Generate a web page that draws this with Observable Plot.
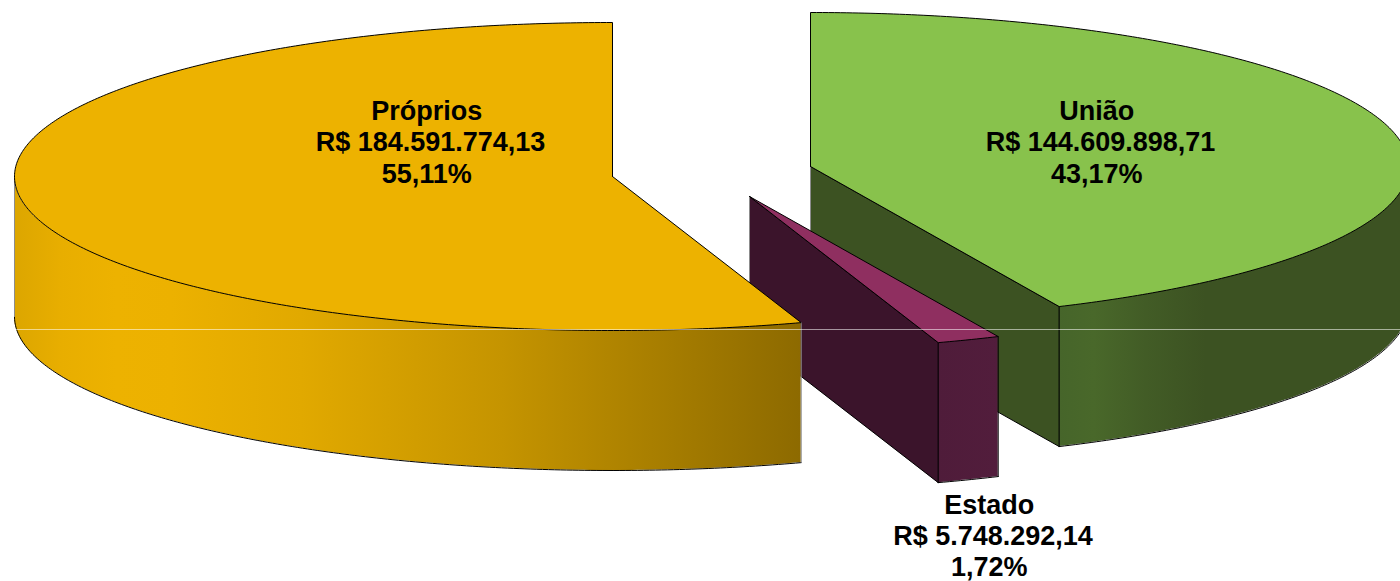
<!DOCTYPE html>
<html>
<head>
<meta charset="utf-8">
<script src="https://cdn.jsdelivr.net/npm/d3@7"></script>
<script src="https://cdn.jsdelivr.net/npm/@observablehq/plot@0.6"></script>
<style>html,body{margin:0;padding:0;background:#fff;overflow:hidden}svg{display:block}</style>
</head>
<body>
<div id="chart"></div>
<script>
// Data, in clockwise order
const categories = ["União", "Estado", "Próprios"];
const values = [144609898.71, 5748292.14, 184591774.13];
const valueLabels = ["R$ 144.609.898,71", "R$ 5.748.292,14", "R$ 184.591.774,13"];
const percentLabels = ["43,17%", "1,72%", "55,11%"];

// Pie layout (chart units)
const W = 1400, H = 581;
const rx = 598, ry = 154, depth = 140;
const centers = [[810, 166], [749, 196], [612, 176]];
const labelAt = [[1100, 141], [992.5, 534.5], [430, 141]];
const topColor = ["#88c24c", "#8f2f60", "#edb200"];
const innerColor = ["#3c5222", "#3b142b", null];
const wallFill = ["url(#g-green)", "url(#g-purple)", "url(#g-gold)"];

const total = d3.sum(values);
let acc = 0;
const slices = categories.map((name, i) => {
  const a0 = acc / total * 2 * Math.PI;
  acc += values[i];
  const a1 = acc / total * 2 * Math.PI;
  return {name, i, a0, a1, cx: centers[i][0], cy: centers[i][1]};
});

const rim = (s, t) => ({x: s.cx + rx * Math.sin(t), y: s.cy - ry * Math.cos(t)});
const arc = (s, t0, t1) => {
  const n = Math.max(2, Math.ceil(Math.abs(t1 - t0) / 0.01));
  return d3.range(n + 1).map(k => rim(s, t0 + (t1 - t0) * k / n));
};
const down = p => ({x: p.x, y: p.y + depth});
const hub = s => ({x: s.cx, y: s.cy});
const face = s => [hub(s), ...arc(s, s.a0, s.a1), hub(s)];
// the front half of the rim is the visible outer wall
const front = s => arc(s, Math.max(s.a0, Math.PI / 2), Math.min(s.a1, 3 * Math.PI / 2));

const defs = () => {
  const svgNS = "http://www.w3.org/2000/svg";
  const d = document.createElementNS(svgNS, "defs");
  const grads = {
    "g-gold": [[0, "#dca600"], [0.06, "#e8ae00"], [0.13, "#edb200"], [0.2, "#ecb100"], [0.365, "#e1a900"], [0.62, "#c59400"], [1, "#8d6a00"]],
    "g-green": [[0, "#46652a"], [0.1, "#49682a"], [0.25, "#425c26"], [0.42, "#3c5222"], [1, "#3c5222"]],
    "g-purple": [[0, "#4f1c3a"], [1, "#521d3c"]]
  };
  for (const id in grads) {
    const g = document.createElementNS(svgNS, "linearGradient");
    g.setAttribute("id", id);
    for (const [o, c] of grads[id]) {
      const st = document.createElementNS(svgNS, "stop");
      st.setAttribute("offset", o);
      st.setAttribute("stop-color", c);
      g.appendChild(st);
    }
    d.appendChild(g);
  }
  return d;
};

const edge = {x: "x", y: "y", stroke: "#000", strokeWidth: 1, curve: "linear"};
const soft = {...edge, stroke: "#8c8c8c"};
const marks = [defs];
for (const s of slices) {
  const i = s.i;
  if (innerColor[i]) {
    const r = rim(s, s.a1), c = hub(s);
    marks.push(Plot.line([c, r, down(r), down(c)], {...edge, fill: innerColor[i]}));
    marks.push(Plot.line([c, down(c)], soft));
  }
  const f = front(s);
  marks.push(Plot.areaY(f.map(p => ({x: p.x, y1: p.y, y2: p.y + depth})), {
    x: "x", y1: "y1", y2: "y2", fill: wallFill[i], curve: "linear"
  }));
  marks.push(Plot.line(f.map(down), {...edge, fill: "none"}));
  const side = i === 2 ? soft : edge;
  const first = f[0], last = f[f.length - 1];
  marks.push(Plot.line([first, down(first)], side));
  marks.push(Plot.line([last, down(last)], side));
  marks.push(Plot.line(face(s), {...edge, fill: topColor[i]}));
}
marks.push(Plot.ruleY([329], {stroke: "#fff", strokeOpacity: 0.55, strokeWidth: 1}));
// the name and percent lines carry a trailing space in the original labels
marks.push(Plot.text(slices.map(s => ({
  x: labelAt[s.i][0], y: labelAt[s.i][1],
  t: `${s.name}\u00a0\n${valueLabels[s.i]}\n${percentLabels[s.i]}\u00a0`
})), {
  x: "x", y: "y", text: "t", fill: "#000", fontSize: 27, fontWeight: 700,
  fontFamily: "Liberation Sans", lineHeight: 1.155, textAnchor: "middle"
}));

document.getElementById("chart").append(Plot.plot({
  width: W, height: H,
  marginTop: 0, marginRight: 0, marginBottom: 0, marginLeft: 0,
  x: {domain: [0, W], range: [0, W], axis: null},
  y: {domain: [0, H], range: [0, H], axis: null},
  style: {background: "transparent"},
  marks
}));
</script>
</body>
</html>
